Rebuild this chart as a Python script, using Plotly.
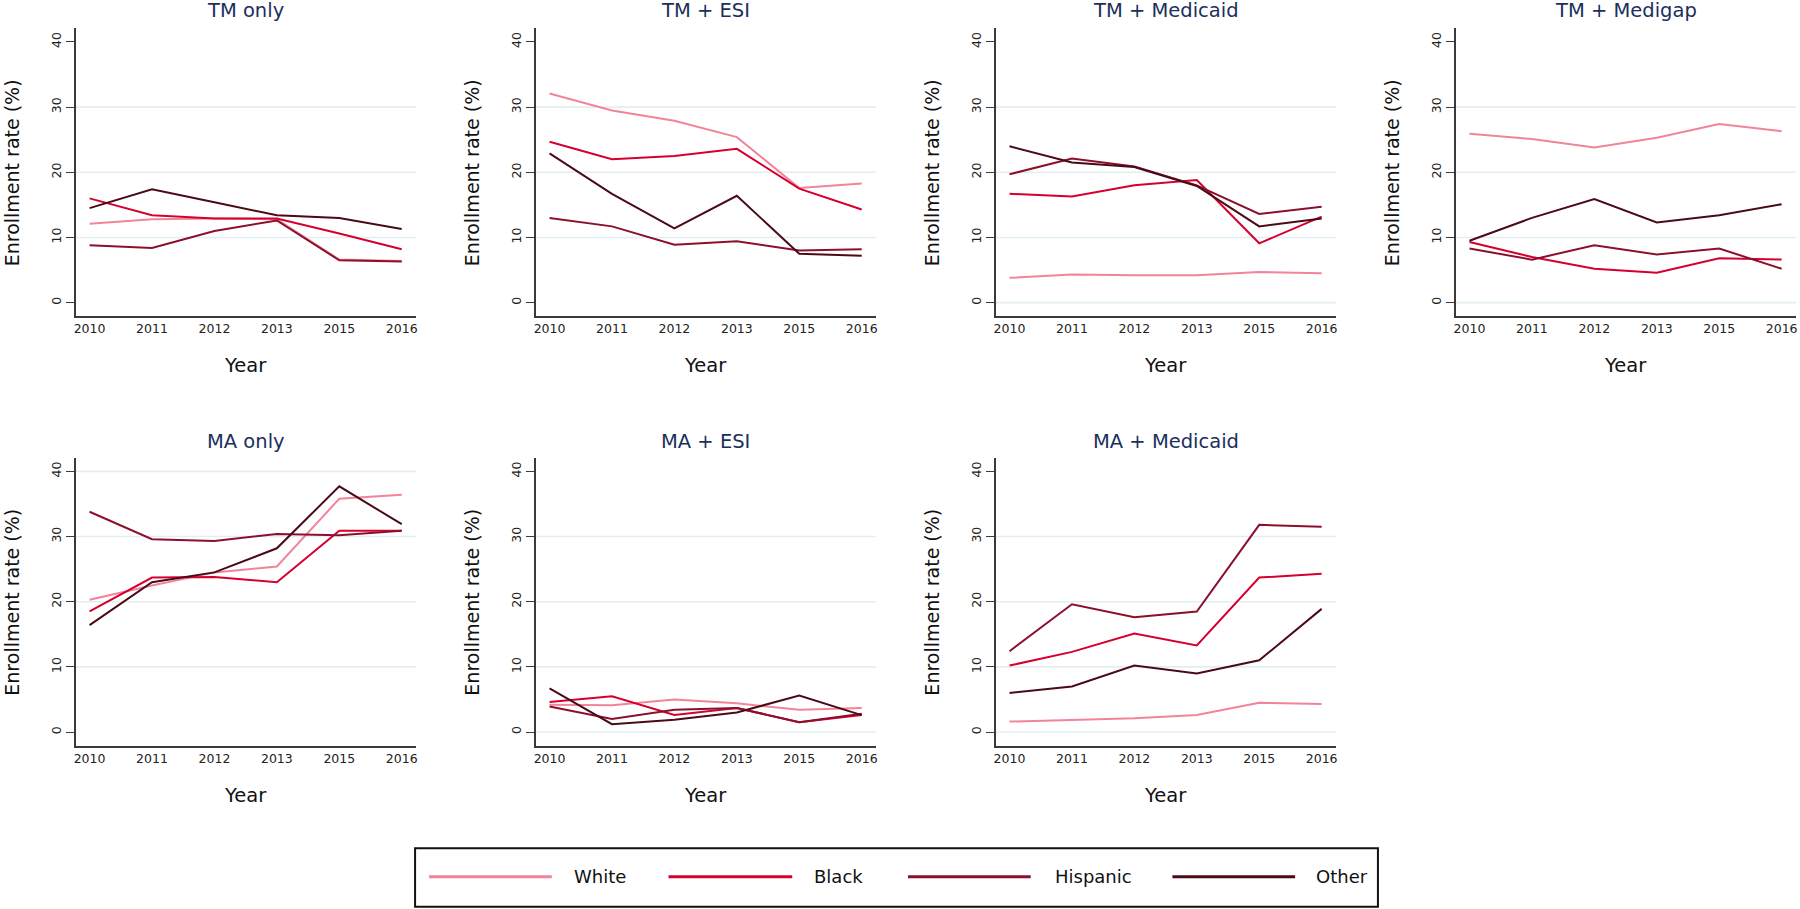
import plotly.graph_objects as go
from plotly.subplots import make_subplots

# ---------------- data ----------------
years = ["2010", "2011", "2012", "2013", "2015", "2016"]
groups = ["White", "Black", "Hispanic", "Other"]
panels = ["TM only", "TM + ESI", "TM + Medicaid", "TM + Medigap",
          "MA only", "MA + ESI", "MA + Medicaid"]

tm_only_white = [12.1, 12.8, 12.9, 12.8, 6.6, 6.4]
tm_only_black = [16.0, 13.4, 12.9, 12.9, 10.6, 8.2]
tm_only_hispanic = [8.8, 8.4, 11.0, 12.6, 6.5, 6.3]
tm_only_other = [14.5, 17.4, 15.4, 13.4, 13.0, 11.3]

tm_esi_white = [32.1, 29.5, 27.9, 25.4, 17.6, 18.3]
tm_esi_black = [24.7, 22.0, 22.5, 23.6, 17.5, 14.3]
tm_esi_hispanic = [13.0, 11.7, 8.9, 9.4, 8.0, 8.2]
tm_esi_other = [22.9, 16.7, 11.4, 16.4, 7.5, 7.2]

tm_medicaid_white = [3.8, 4.3, 4.2, 4.2, 4.7, 4.5]
tm_medicaid_black = [16.7, 16.3, 18.0, 18.8, 9.1, 13.2]
tm_medicaid_hispanic = [19.7, 22.1, 20.9, 18.0, 13.6, 14.7]
tm_medicaid_other = [24.0, 21.5, 20.8, 17.9, 11.7, 12.9]

tm_medigap_white = [25.9, 25.1, 23.8, 25.3, 27.4, 26.3]
tm_medigap_black = [9.3, 7.0, 5.2, 4.6, 6.8, 6.6]
tm_medigap_hispanic = [8.3, 6.6, 8.8, 7.4, 8.3, 5.2]
tm_medigap_other = [9.5, 13.0, 15.9, 12.3, 13.4, 15.1]

ma_only_white = [20.3, 22.5, 24.5, 25.4, 35.8, 36.4]
ma_only_black = [18.5, 23.7, 23.8, 23.0, 30.9, 30.9]
ma_only_hispanic = [33.8, 29.6, 29.3, 30.4, 30.2, 30.9]
ma_only_other = [16.4, 23.0, 24.5, 28.2, 37.7, 31.9]

ma_esi_white = [4.2, 4.1, 5.0, 4.4, 3.4, 3.7]
ma_esi_black = [4.6, 5.5, 2.6, 3.7, 1.5, 2.6]
ma_esi_hispanic = [3.9, 2.0, 3.4, 3.7, 1.5, 2.8]
ma_esi_other = [6.7, 1.2, 1.9, 3.0, 5.6, 2.6]

ma_medicaid_white = [1.6, 1.8, 2.1, 2.6, 4.5, 4.3]
ma_medicaid_black = [10.2, 12.3, 15.1, 13.3, 23.7, 24.3]
ma_medicaid_hispanic = [12.4, 19.6, 17.6, 18.5, 31.8, 31.5]
ma_medicaid_other = [6.0, 7.0, 10.2, 9.0, 11.0, 18.9]

y_ticks = [0, 10, 20, 30, 40]

# ---------------- style ----------------
colors = {"White": "#f2849a", "Black": "#d6002e", "Hispanic": "#8c102d", "Other": "#4a0b17"}
series = [
    [tm_only_white, tm_only_black, tm_only_hispanic, tm_only_other],
    [tm_esi_white, tm_esi_black, tm_esi_hispanic, tm_esi_other],
    [tm_medicaid_white, tm_medicaid_black, tm_medicaid_hispanic, tm_medicaid_other],
    [tm_medigap_white, tm_medigap_black, tm_medigap_hispanic, tm_medigap_other],
    [ma_only_white, ma_only_black, ma_only_hispanic, ma_only_other],
    [ma_esi_white, ma_esi_black, ma_esi_hispanic, ma_esi_other],
    [ma_medicaid_white, ma_medicaid_black, ma_medicaid_hispanic, ma_medicaid_other],
]
grid_levels = [
    [10, 20, 30], [10, 20, 30], [0, 10, 20, 30], [0, 10, 20, 30],
    [10, 20, 30, 40], [0, 10, 20, 30], [0, 10, 20, 30],
]

W, H = 1800, 909
FONT = "DejaVu Sans"
col_left_px = [74, 535, 996, 1457]
plot_w_px = 341
row_top_px = [28.3, 457.7]
plot_h_px = 288
title_y_px = [11, 441]
xtitle_y_px = [365, 795]

fig = make_subplots(rows=2, cols=4)

annotations = []
shapes = []
for i, name in enumerate(panels):
    r, c = divmod(i, 4)
    n = i + 1
    xa = "x" if n == 1 else f"x{n}"
    ya = "y" if n == 1 else f"y{n}"
    x0 = col_left_px[c] / W
    x1 = (col_left_px[c] + plot_w_px) / W
    y1 = 1 - row_top_px[r] / H
    y0 = 1 - (row_top_px[r] + plot_h_px) / H

    for g, vals in zip(groups, series[i]):
        fig.add_trace(go.Scatter(x=years, y=vals, mode="lines", name=g,
                                 line=dict(color=colors[g], width=2),
                                 showlegend=False, hoverinfo="x+y+name"),
                      row=r + 1, col=c + 1)

    fig.update_xaxes(domain=[x0, x1], type="category", categoryorder="array",
                     categoryarray=years, range=[-0.22, 5.23],
                     showline=True, linecolor="#3a3a3a", linewidth=1.6,
                     ticks="", showgrid=False, zeroline=False,
                     tickfont=dict(family=FONT, size=12.5, color="#222222"),
                     row=r + 1, col=c + 1)
    fig.update_yaxes(domain=[y0, y1], range=[-2.1, 42.1], tickvals=y_ticks,
                     tickangle=-90, ticks="outside", ticklen=8, tickwidth=1.4,
                     tickcolor="#3a3a3a", showline=True, linecolor="#3a3a3a",
                     linewidth=1.6, showgrid=False, zeroline=False,
                     tickfont=dict(family=FONT, size=12.5, color="#222222"),
                     row=r + 1, col=c + 1)

    for lv in grid_levels[i]:
        shapes.append(dict(type="line", xref=f"{xa} domain", yref=ya,
                           x0=0, x1=1, y0=lv, y1=lv, layer="below",
                           line=dict(color="#e3eeef", width=1.6)))

    cx = (x0 + x1) / 2
    annotations.append(dict(text=name, x=cx, y=1 - title_y_px[r] / H,
                            xref="paper", yref="paper", showarrow=False,
                            xanchor="center", yanchor="middle",
                            font=dict(family=FONT, size=19.5, color="#1b2f5c")))
    annotations.append(dict(text="Year", x=cx, y=1 - xtitle_y_px[r] / H,
                            xref="paper", yref="paper", showarrow=False,
                            xanchor="center", yanchor="middle",
                            font=dict(family=FONT, size=19.5, color="#111111")))
    annotations.append(dict(text="Enrollment rate (%)",
                            x=(col_left_px[c] - 64) / W, y=(y0 + y1) / 2,
                            xref="paper", yref="paper", showarrow=False,
                            textangle=-90, xanchor="center", yanchor="middle",
                            font=dict(family=FONT, size=19, color="#111111")))

# hide unused 8th subplot axes
fig.update_xaxes(visible=False, row=2, col=4)
fig.update_yaxes(visible=False, row=2, col=4)

# ---------------- custom legend ----------------
leg_box = (414, 848.3, 1379, 906.7)
shapes.append(dict(type="rect", xref="paper", yref="paper",
                   x0=leg_box[0] / W, x1=leg_box[2] / W,
                   y0=1 - leg_box[3] / H, y1=1 - leg_box[1] / H,
                   line=dict(color="#111111", width=2), fillcolor="white"))
leg_line_px = [(428, 551), (668, 792), (908, 1031), (1173, 1296)]
leg_text_px = [571, 812, 1053, 1315]
leg_y = 1 - 876.7 / H
for g, (lx0, lx1), tx in zip(groups, leg_line_px, leg_text_px):
    shapes.append(dict(type="line", xref="paper", yref="paper",
                       x0=lx0 / W, x1=lx1 / W, y0=leg_y, y1=leg_y,
                       line=dict(color=colors[g], width=3)))
    annotations.append(dict(text=g, x=tx / W, y=leg_y, xref="paper", yref="paper",
                            showarrow=False, xanchor="left", yanchor="middle",
                            font=dict(family=FONT, size=18, color="#111111")))

fig.update_layout(width=W, height=H, margin=dict(l=0, r=0, t=0, b=0),
                  paper_bgcolor="white", plot_bgcolor="white",
                  showlegend=False, shapes=shapes, annotations=annotations,
                  font=dict(family=FONT))

fig.write_html("out.html",
               config={"displayModeBar": False},
               post_script="document.body.style.margin='0';"
                           "document.body.style.overflow='hidden';")
